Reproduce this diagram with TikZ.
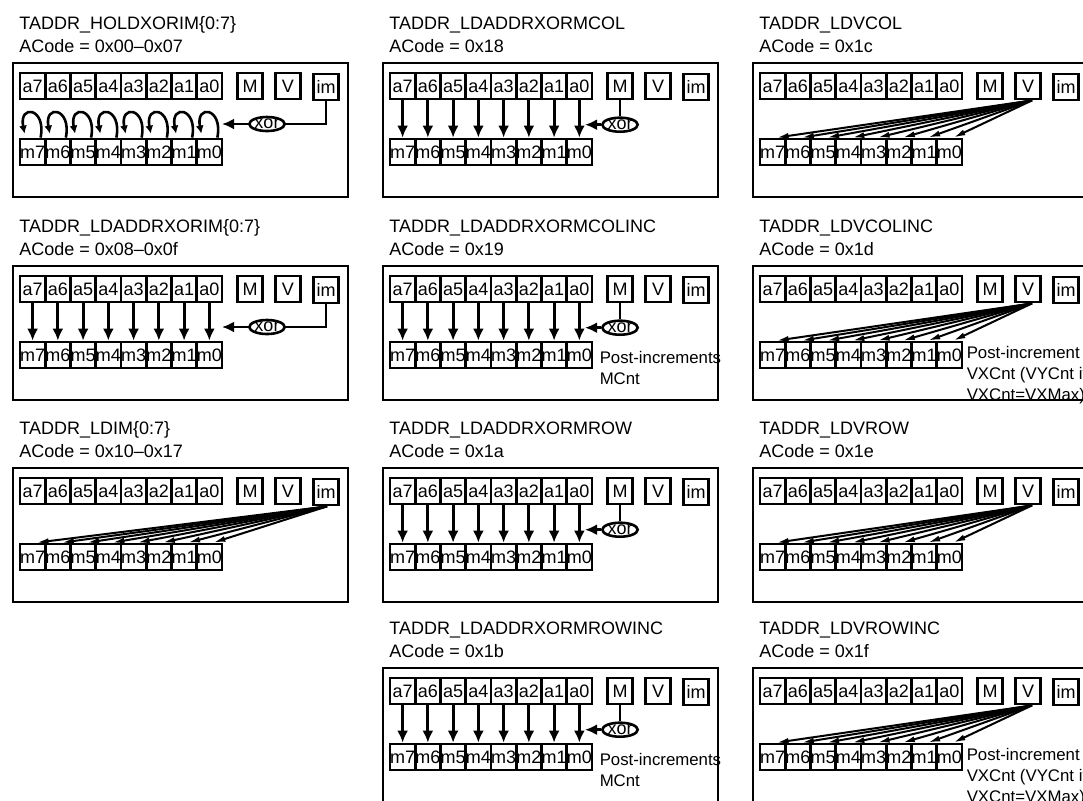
\documentclass[tikz,border=0pt]{standalone}
\usepackage{fontspec}
\setmainfont{Liberation Sans}
\usetikzlibrary{arrows.meta,shapes.geometric,calc,positioning}

% one register panel: #1 name, #2 x, #3 y (box corner), #4 title, #5 code line
\newcommand{\regPanel}[5]{%
  \draw[panelBox] (#2,#3) rectangle ({#2+335},{#3+134});
  \node[titleText] (#1-title) at ({#2+6},{#3-34}) {#4};
  \node[titleText] (#1-code) at ({#2+6},{#3-11}) {#5};
  \foreach \i [count=\k from 0] in {7,...,0} {
    \node[bitCell] (#1-a\i) at ({#2+19.6+25.25*\k},{#3+23}) {a\i};
    \node[bitCell] (#1-m\i) at ({#2+19.6+25.25*\k},{#3+89}) {m\i};
  }
  \node[bitCell] (#1-M) at ({#2+237},{#3+23}) {M};
  \node[bitCell] (#1-V) at ({#2+275},{#3+23}) {V};
  \node[bitCell] (#1-im) at ({#2+313},{#3+24}) {im};
}

\begin{document}
\begin{tikzpicture}[
    x=0.5pt, y=-0.5pt,
    font=\fontsize{9}{10.8}\selectfont,
    panelBox/.style={draw=black,line width=1.3pt},
    bitCell/.style={draw=black,line width=1.4pt,minimum width=12.6pt,minimum height=13pt,inner sep=0pt},
    titleText/.style={anchor=base west,inner sep=0pt},
    noteText/.style={anchor=north west,align=left,inner sep=0pt,font=\fontsize{8.4}{10.6}\selectfont},
    xorNode/.style={ellipse,draw=black,line width=1.3pt,inner sep=0pt,minimum width=15.5pt,minimum height=7pt},
    wireLine/.style={line width=1.4pt},
    bitArrow/.style={-{Latex[length=6pt,width=5.5pt]},line width=1.4pt},
    loopArrow/.style={-{Latex[length=4pt,width=4pt]},line width=1.3pt},
    fanArrow/.style={-{Latex[length=6pt,width=3pt]},line width=1pt},
]
\fill[white] (0,0) rectangle (1083,800);
\useasboundingbox (0,0) rectangle (1083,800);

\regPanel{p1}{13}{63}{TADDR\_HOLDXORIM\{0:7\}}{ACode = 0x00--0x07}
\regPanel{p2}{13}{266}{TADDR\_LDADDRXORIM\{0:7\}}{ACode = 0x08--0x0f}
\regPanel{p3}{13}{468}{TADDR\_LDIM\{0:7\}}{ACode = 0x10--0x17}
\regPanel{p4}{383}{63}{TADDR\_LDADDRXORMCOL}{ACode = 0x18}
\regPanel{p5}{383}{266}{TADDR\_LDADDRXORMCOLINC}{ACode = 0x19}
\regPanel{p6}{383}{468}{TADDR\_LDADDRXORMROW}{ACode = 0x1a}
\regPanel{p7}{383}{668}{TADDR\_LDADDRXORMROWINC}{ACode = 0x1b}
\regPanel{p8}{753}{63}{TADDR\_LDVCOL}{ACode = 0x1c}
\regPanel{p9}{753}{266}{TADDR\_LDVCOLINC}{ACode = 0x1d}
\regPanel{p10}{753}{468}{TADDR\_LDVROW}{ACode = 0x1e}
\regPanel{p11}{753}{668}{TADDR\_LDVROWINC}{ACode = 0x1f}

% hold: every m bit keeps itself
\foreach \i in {0,...,7}
  \draw[loopArrow] ([xshift=4pt]p1-m\i.north) .. controls +(3pt,15pt) and +(-3pt,15pt) .. ([xshift=-4pt,yshift=2pt]p1-m\i.north);

% xor with im
\foreach \p in {p1,p2} {
  \node[xorNode] (\p-xor) at ($(\p-M.center)+(8.5pt,-19pt)$) {xor};
  \coordinate[left=13pt of \p-xor] (\p-xin);
  \draw[wireLine] (\p-im.south) |- (\p-xor.east);
  \draw[bitArrow] (\p-xor.west) -- (\p-xin);
}

% xor with M
\foreach \p in {p4,p5,p6,p7} {
  \node[xorNode,below=8pt of \p-M] (\p-xor) {xor};
  \coordinate[left=8pt of \p-xor] (\p-xin);
  \draw[wireLine] (\p-M.south) -- (\p-xor.north);
  \draw[bitArrow] (\p-xor.west) -- (\p-xin);
}

% a -> m
\foreach \p in {p2,p4,p5,p6,p7}
  \foreach \i in {0,...,7}
    \draw[bitArrow] (\p-a\i) -- (\p-m\i);

% im -> m
\foreach \i in {0,...,7}
  \draw[fanArrow] ([xshift=0.5pt]p3-im.south) -- ([xshift=2pt]p3-m\i.north);

% V -> m
\foreach \p in {p8,p9,p10,p11}
  \foreach \i in {0,...,7}
    \draw[fanArrow] ([xshift=2pt]\p-V.south) -- ([xshift=2pt]\p-m\i.north);

\node[noteText] (p5-note) at ($(p5-m0.east)+(3pt,2pt)$) {Post-increments\\MCnt};
\node[noteText] (p7-note) at ($(p7-m0.east)+(3pt,2pt)$) {Post-increments\\MCnt};
\node[noteText] (p9-note) at ($(p9-m0.east)+(1.5pt,4.5pt)$) {Post-increment\\VXCnt (VYCnt if\\VXCnt=VXMax)};
\node[noteText] (p11-note) at ($(p11-m0.east)+(1.5pt,4.5pt)$) {Post-increment\\VXCnt (VYCnt if\\VXCnt=VXMax)};
\end{tikzpicture}
\end{document}
